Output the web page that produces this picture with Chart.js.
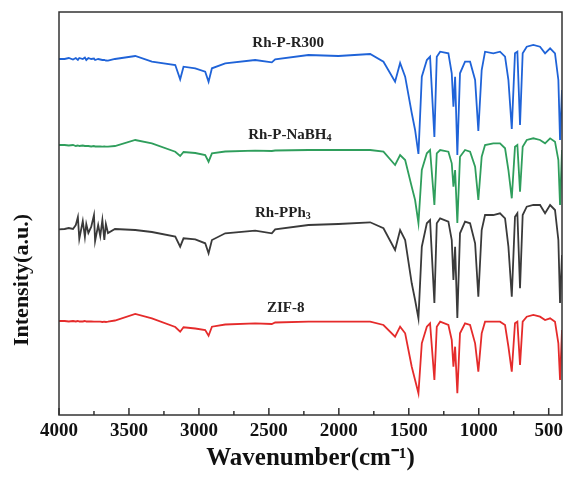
<!DOCTYPE html>
<html>
<head>
<meta charset="utf-8">
<title>FTIR</title>
<script src="https://cdn.jsdelivr.net/npm/chart.js@4.4.0/dist/chart.umd.min.js"></script>
<style>
  html, body { margin: 0; padding: 0; background: #fff; }
  #c { display: block; }
</style>
</head>
<body>
<canvas id="c" width="565" height="488"></canvas>
<script>
// wavenumbers (cm-1), shared by all four spectra
var wavenumber = [4000, 3960, 3930, 3900, 3880, 3865, 3855, 3830, 3815, 3805,
  3790, 3770, 3750, 3742, 3720, 3705, 3690, 3676, 3665, 3650,
  3600, 3455, 3336, 3169, 3134, 3110, 3026, 2955, 2931, 2907,
  2812, 2598, 2479, 2455, 2217, 2003, 1776, 1681, 1598, 1562,
  1526, 1479, 1455, 1431, 1407, 1371, 1348, 1317, 1300, 1276,
  1217, 1193, 1181, 1169, 1153, 1134, 1098, 1062, 1026, 1003,
  979, 955, 896, 848, 812, 788, 764, 741, 724, 705,
  686, 657, 610, 562, 526, 490, 455, 431, 419, 405];

// stacked intensities (a.u.), offsets already included
var rhPR300 = [356, 356, 357, 355.5, 357, 355, 357, 356, 357.5, 355,
  357, 356, 356.5, 355, 356, 355.5, 355, 355, 354.5, 354.3,
  356, 359, 353.3, 350, 335.7, 348.3, 346.7, 343.3, 333.3, 346.7,
  351.7, 355, 352.7, 355.7, 360, 359, 361, 353.3, 333.3, 352,
  338.3, 302, 285, 261, 338.3, 355, 358.3, 278, 358.3, 363.3,
  361.7, 341.7, 308.3, 338.3, 260, 341.7, 353.3, 353.3, 335, 284,
  345, 363.3, 361.7, 363.3, 358.3, 335, 286, 361.7, 363.3, 290,
  361.7, 368.3, 370, 368.3, 361.7, 366.7, 361.7, 335, 275, 325];

var rhPNaBH4 = [270, 270, 269.5, 270, 269, 269.5, 269, 269.5, 269, 269,
  269, 268.5, 269, 268.5, 268.5, 268.5, 268.3, 268.5, 268.3, 268.3,
  269, 275, 271.7, 263.3, 259, 263, 262, 260, 253.3, 261.7,
  263.5, 264.3, 264, 264.5, 265, 265, 265, 263.3, 250, 260,
  255, 228.3, 215, 192, 245, 261.7, 265, 210, 261.7, 265,
  263.3, 251.7, 228.3, 245, 192, 258.3, 265, 263.3, 248.3, 215,
  258.3, 270, 271.7, 271.7, 266.7, 245, 216.7, 268.3, 270, 223.3,
  268.3, 275, 276.7, 275, 271.7, 276.7, 273.3, 255, 210, 265];

var rhPPh3 = [185.7, 186, 187, 186, 190, 198, 176, 194, 178, 191,
  182, 188, 200, 174, 190, 179, 195, 175, 191, 182,
  186, 185, 183, 178.5, 168.3, 176.7, 175.7, 171.7, 161.7, 175,
  181.7, 184.3, 181.7, 185.7, 190, 191, 192.7, 186.7, 165, 185,
  175, 131.7, 115, 96.7, 168.3, 191.7, 195, 112, 191.7, 196.7,
  193.3, 175, 135, 168.3, 97, 181.7, 193.3, 191.7, 171.7, 118.3,
  185, 200, 200, 201.7, 196.7, 168.3, 118.3, 198.3, 201.7, 126.7,
  200, 208.3, 210, 210, 201.7, 210, 205, 175, 112, 160];

var zif8 = [94, 94, 93.5, 94, 93.5, 94, 93.5, 93.5, 94, 93.5,
  93.5, 93.5, 93.3, 93.3, 93.3, 93.3, 93, 93.3, 93, 93.3,
  94.5, 101, 96.7, 88, 83.3, 87.7, 86.5, 85, 79.3, 88.3,
  90.5, 91.7, 91, 92.5, 93.3, 93.3, 93.3, 90, 78.3, 88.3,
  81.7, 48.3, 35, 21.7, 71.7, 88.3, 91.7, 35, 88.3, 93.3,
  90, 75, 48.3, 68.3, 21.7, 81.7, 91.7, 90, 71.7, 43.3,
  81.7, 93.3, 93.3, 93.3, 90, 68.3, 43.3, 91.7, 93.3, 50,
  93.3, 98.3, 100, 98.3, 95, 96.7, 93.3, 71.7, 35, 85];

var xTicks = [500, 1000, 1500, 2000, 2500, 3000, 3500, 4000];
var minorTicks = [750, 1250, 1750, 2250, 2750, 3250, 3750];

// curve labels: text, subscript, position (wavenumber, intensity)
var labelText = ['Rh-P-R300', 'Rh-P-NaBH', 'Rh-PPh', 'ZIF-8'];
var labelSub = ['', '4', '3', ''];
var labelWn = [2362, 2350, 2400, 2380];
var labelLevel = [372, 280, 202, 107];

var yTitle = 'Intensity(a.u.)';

function pts(arr) {
  return wavenumber.map(function (w, i) { return { x: w, y: arr[i] }; });
}

var serif = '"Liberation Serif", "Times New Roman", serif';

var framePlugin = {
  id: 'frame',
  afterDatasetsDraw: function (chart) {
    var ctx = chart.ctx, a = chart.chartArea;
    var xs = chart.scales.x, ys = chart.scales.y;
    ctx.save();
    ctx.strokeStyle = '#333';
    ctx.lineWidth = 1.5;
    ctx.strokeRect(a.left, a.top, a.right - a.left, a.bottom - a.top);
    ctx.beginPath();
    xTicks.forEach(function (v) {
      var x = xs.getPixelForValue(v);
      ctx.moveTo(x, a.bottom); ctx.lineTo(x, a.bottom - 7);
    });
    minorTicks.forEach(function (v) {
      var x = xs.getPixelForValue(v);
      ctx.moveTo(x, a.bottom); ctx.lineTo(x, a.bottom - 4);
    });
    ctx.stroke();

    // curve names
    ctx.fillStyle = '#222';
    ctx.textBaseline = 'middle';
    ctx.textAlign = 'left';
    for (var i = 0; i < labelText.length; i++) {
      ctx.font = 'bold 15px ' + serif;
      var w1 = ctx.measureText(labelText[i]).width;
      ctx.font = 'bold 10px ' + serif;
      var w2 = labelSub[i] ? ctx.measureText(labelSub[i]).width : 0;
      var x0 = xs.getPixelForValue(labelWn[i]) - (w1 + w2) / 2;
      var y0 = ys.getPixelForValue(labelLevel[i]);
      ctx.font = 'bold 15px ' + serif;
      ctx.fillText(labelText[i], x0, y0);
      if (labelSub[i]) {
        ctx.font = 'bold 10px ' + serif;
        ctx.fillText(labelSub[i], x0 + w1, y0 + 3);
      }
    }

    // y title, a bit below the middle like the original
    ctx.save();
    ctx.translate(22, 280);
    ctx.rotate(-Math.PI / 2);
    ctx.textAlign = 'center';
    ctx.fillStyle = '#111';
    ctx.font = 'bold 22px ' + serif;
    ctx.fillText(yTitle, 0, 0);
    ctx.restore();
    ctx.restore();
  }
};

new Chart(document.getElementById('c'), {
  type: 'line',
  data: {
    datasets: [
      { label: 'Rh-P-R300', data: pts(rhPR300), borderColor: '#1f63d8' },
      { label: 'Rh-P-NaBH4', data: pts(rhPNaBH4), borderColor: '#2f9e5c' },
      { label: 'Rh-PPh3', data: pts(rhPPh3), borderColor: '#3a3a3a' },
      { label: 'ZIF-8', data: pts(zif8), borderColor: '#e52b2b' }
    ]
  },
  options: {
    responsive: false,
    animation: false,
    layout: { padding: { top: 12, right: 3, left: 0, bottom: 0 } },
    elements: {
      line: { borderWidth: 1.8, tension: 0, fill: false },
      point: { radius: 0 }
    },
    plugins: {
      legend: { display: false },
      tooltip: { enabled: false }
    },
    scales: {
      x: {
        type: 'linear',
        reverse: true,
        min: 405,
        max: 4000,
        afterBuildTicks: function (s) {
          s.ticks = xTicks.map(function (v) { return { value: v }; });
        },
        afterFit: function (s) { s.height = 73; },
        grid: { display: false, drawTicks: false },
        border: { display: false },
        ticks: {
          padding: 5,
          color: '#111',
          maxRotation: 0,
          font: { family: serif, size: 19, weight: 'bold' },
          callback: function (v) { return String(v); }
        },
        title: {
          display: true,
          text: 'Wavenumber(cm\u207B\u00B9)',
          color: '#111',
          padding: { top: 0, bottom: 14 },
          font: { family: serif, size: 25, weight: 'bold' }
        }
      },
      y: {
        min: 0,
        max: 403,
        afterFit: function (s) { s.width = 59; },
        grid: { display: false, drawTicks: false },
        border: { display: false },
        ticks: { display: false },
        title: { display: false }
      }
    }
  },
  plugins: [framePlugin]
});
</script>
</body>
</html>
